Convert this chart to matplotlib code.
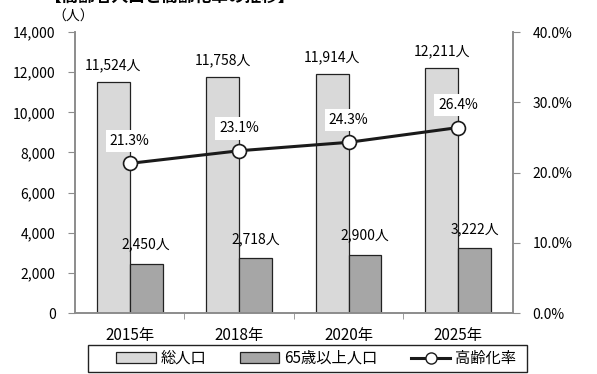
import matplotlib
matplotlib.use("Agg")
import matplotlib.pyplot as plt
from matplotlib.lines import Line2D
from matplotlib.patches import Patch, Rectangle
from matplotlib.ticker import FuncFormatter, PercentFormatter

plt.rcParams['font.family'] = ['Noto Sans CJK JP', 'DejaVu Sans']

years = ["2015年", "2018年", "2020年", "2025年"]
total_pop = [11524, 11758, 11914, 12211]
elderly_pop = [2450, 2718, 2900, 3222]
aging_rate = [21.3, 23.1, 24.3, 26.4]

W, H = 597, 374
fig = plt.figure(figsize=(W / 100, H / 100), dpi=100)
ax = fig.add_axes([0.1256, 0.163, 0.7334, 0.7514])
ax2 = ax.twinx()

x = list(range(len(years)))
w = 0.3
light = "#d9d9d9"
dark = "#a6a6a6"
spine_c = "#8c8c8c"

ax.bar([i - w / 2 for i in x], total_pop, width=w, color=light,
       edgecolor="#222222", linewidth=0.9, zorder=2)
ax.bar([i + w / 2 for i in x], elderly_pop, width=w, color=dark,
       edgecolor="#222222", linewidth=0.9, zorder=2)

for i, v in enumerate(total_pop):
    ax.annotate(f"{v:,}人", (i - w / 2, v), xytext=(0, 7),
                textcoords="offset points", ha="center", va="bottom",
                fontsize=10)
for i, v in enumerate(elderly_pop):
    ax.annotate(f"{v:,}人", (i + w / 2, v), xytext=(0, 9),
                textcoords="offset points", ha="center", va="bottom",
                fontsize=10)

ax2.plot(x, aging_rate, color="#1a1a1a", linewidth=2.2, marker="o",
         markersize=10, markerfacecolor="white", markeredgecolor="#1a1a1a",
         markeredgewidth=1.2, zorder=3)
for i, v in enumerate(aging_rate):
    ax2.annotate(f"{v:.1f}%", (i, v), xytext=(0, 11),
                 textcoords="offset points", ha="center", va="bottom",
                 fontsize=10,
                 bbox=dict(boxstyle="square,pad=0.3", facecolor="white",
                           edgecolor="none"))

ax.set_xlim(-0.5, len(years) - 0.5)
ax.set_ylim(0, 14000)
ax.set_yticks(range(0, 14001, 2000))
ax.yaxis.set_major_formatter(FuncFormatter(lambda v, p: f"{int(v):,}"))
ax2.set_ylim(0, 40)
ax2.set_yticks([0, 10, 20, 30, 40])
ax2.yaxis.set_major_formatter(PercentFormatter(decimals=1))

ax.set_xticks(x)
ax.set_xticklabels(years, fontsize=11)
ax.set_xticks([i + 0.5 for i in x[:-1]], minor=True)
ax.tick_params(axis="x", which="major", length=0, pad=10)
ax.tick_params(axis="x", which="minor", length=4, color=spine_c)
ax.tick_params(axis="y", length=5, color=spine_c, labelsize=10, pad=9)
ax2.tick_params(axis="y", length=5, color=spine_c, labelsize=10, pad=9)

for a in (ax, ax2):
    a.spines["top"].set_visible(False)
    for s in ("left", "right", "bottom"):
        a.spines[s].set_color(spine_c)
        a.spines[s].set_linewidth(1.2)
ax.set_zorder(ax2.get_zorder() - 1)
ax.patch.set_visible(True)
ax2.patch.set_visible(False)

fig.text(0.122, 1 - 17 / H, "（人）", ha="center", va="center", fontsize=10)
fig.text(0.075, 1 + 3 / H, "【高齢者人口と高齢化率の推移】", ha="left",
         va="center", fontsize=12, fontweight="bold")

handles = [
    Patch(facecolor=light, edgecolor="#222222", linewidth=0.9),
    Patch(facecolor=dark, edgecolor="#222222", linewidth=0.9),
    Line2D([0], [0], color="#1a1a1a", linewidth=2.2, marker="o",
           markersize=8, markerfacecolor="white", markeredgecolor="#1a1a1a"),
]
labels = ["総人口", "65歳以上人口", "高齢化率"]
leg = fig.legend(handles, labels, loc="center", ncol=3,
                 bbox_to_anchor=(316 / W, 1 - 358.5 / H), fontsize=11,
                 frameon=False, handlelength=2.6, handleheight=0.75,
                 handletextpad=0.3, columnspacing=2.2, borderpad=0.2)

# box around the legend entries
fig.add_artist(Rectangle((88 / W, 1 - 372 / H), (527 - 88) / W, 27 / H,
                         transform=fig.transFigure, fill=False,
                         edgecolor="#222222", linewidth=1.0))

fig.savefig("out.png", dpi=100)
